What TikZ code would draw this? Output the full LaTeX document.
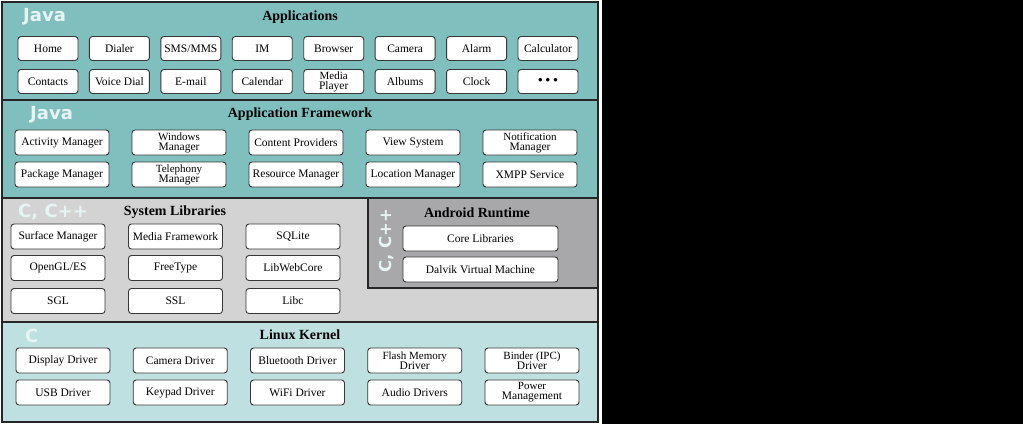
\documentclass[tikz,border=0pt]{standalone}
\usepackage{fontspec}
\setmainfont{Liberation Serif}
\newfontfamily\langfont{DejaVu Sans}

\definecolor{appteal}{RGB}{127,191,190}
\definecolor{kernteal}{RGB}{191,224,224}
\definecolor{libgray}{RGB}{211,211,211}
\definecolor{rtgray}{RGB}{168,168,170}
\definecolor{boxline}{RGB}{55,55,55}
\definecolor{langwhite}{RGB}{232,244,244}

% two line label inside a box
\newcommand{\twoln}[2]{\fontsize{11}{9.5}\selectfont #1\\#2}

\begin{document}
\begin{tikzpicture}[x=1pt,y=-1pt,
  comp/.style={draw=boxline,fill=white,rounded corners=3pt,line width=0.9pt,
    minimum width=94pt,minimum height=25pt,inner sep=1pt,align=center,
    font=\fontsize{11.5}{10}\selectfont},
  appbox/.style={comp,minimum width=60pt,minimum height=24pt},
  rtbox/.style={comp,minimum width=155pt},
  layertitle/.style={font=\fontsize{14}{16}\selectfont\bfseries},
  langlbl/.style={text=langwhite,font=\fontsize{18}{20}\selectfont\langfont\bfseries,
    anchor=west,inner sep=0pt}]

  \useasboundingbox (0,0) rectangle (1023,424);
  \fill[black] (602,0) rectangle (1023,424);

  % layer backgrounds
  \fill[appteal] (2,2) rectangle (598,198);
  \fill[libgray] (2,198) rectangle (598,322);
  \fill[kernteal] (2,322) rectangle (598,422);
  \filldraw[fill=rtgray,draw=black!85,line width=1.2pt] (368,198) rectangle (598,288);

  % frame and separators
  \draw[black!85,line width=1.2pt] (2,100) -- (598,100);
  \draw[black!85,line width=1.2pt] (2,198) -- (598,198);
  \draw[black!85,line width=1.2pt] (2,322) -- (598,322);
  \draw[black!85,line width=1.5pt] (2,2) rectangle (598,422);

  % applications
  \node[langlbl] (javaA) at (23,17) {Java};
  \node[layertitle] (appsT) at (300,17) {Applications};
  \foreach \nm/\txt [count=\i from 0] in {home/Home,dialer/Dialer,sms/{SMS/MMS},
      im/IM,browser/Browser,camera/Camera,alarm/Alarm,calc/Calculator}
  {
       \node[appbox] (\nm) at ({48+71.43*\i},48.5) {\txt};
  }
  \foreach \nm/\txt [count=\i from 0] in {contacts/Contacts,voicedial/Voice Dial,
      email/E-mail,calendar/Calendar,media/{\twoln{Media}{Player}},albums/Albums,
      clock/Clock,more/{\fontsize{13}{13}\selectfont\textbf{\textbullet\hspace{3pt}\textbullet\hspace{3pt}\textbullet}}}
  {
       \node[appbox] (\nm) at ({48+71.43*\i},81.5) {\txt};
  }

  % application framework
  \node[langlbl] (javaF) at (30,115) {Java};
  \node[layertitle] (frameT) at (300,114) {Application Framework};
  \foreach \nm/\txt [count=\i from 0] in {actmgr/Activity Manager,
      winmgr/{\twoln{Windows}{Manager}},content/Content Providers,
      viewsys/View System,notify/{\twoln{Notification}{Manager}}}
  {
       \node[comp] (\nm) at ({62+117*\i},142.5) {\txt};
  }
  \foreach \nm/\txt [count=\i from 0] in {pkgmgr/Package Manager,
      telmgr/{\twoln{Telephony}{Manager}},resmgr/Resource Manager,
      locmgr/Location Manager,xmpp/XMPP Service}
  {
       \node[comp] (\nm) at ({62+117*\i},174.5) {\txt};
  }

  % system libraries
  \node[langlbl] (cppL) at (18,212) {C, C++};
  \node[layertitle] (libsT) at (175,212) {System Libraries};
  \foreach \nm/\txt [count=\i from 0] in {surface/Surface Manager,
      mediafw/Media Framework,sqlite/SQLite}
  {
       \node[comp] (\nm) at ({58+117.5*\i},236.5) {\txt};
  }
  \foreach \nm/\txt [count=\i from 0] in {opengl/{OpenGL/ES},freetype/FreeType,
      webcore/LibWebCore}
  {
       \node[comp] (\nm) at ({58+117.5*\i},268) {\txt};
  }
  \foreach \nm/\txt [count=\i from 0] in {sgl/SGL,ssl/SSL,libc/Libc}
  {
       \node[comp] (\nm) at ({58+117.5*\i},301) {\txt};
  }

  % android runtime
  \node[layertitle] (rtT) at (477,213) {Android Runtime};
  \node[langlbl,anchor=center,rotate=90,font=\fontsize{16.5}{18}\selectfont\langfont\bfseries]
    (cppR) at (387,241) {C, C++};
  \node[rtbox] (core) at (480.5,238.5) {Core Libraries};
  \node[rtbox] (dalvik) at (480.5,269.5) {Dalvik Virtual Machine};

  % linux kernel
  \node[langlbl] (cK) at (25,336) {C};
  \node[layertitle] (kernT) at (300,335) {Linux Kernel};
  \foreach \nm/\txt [count=\i from 0] in {display/Display Driver,
      camdrv/Camera Driver,bluetooth/Bluetooth Driver,
      flash/{\twoln{Flash Memory}{Driver}},binder/{\twoln{Binder (IPC)}{Driver}}}
  {
       \node[comp] (\nm) at ({63+117.25*\i},360.5) {\txt};
  }
  \foreach \nm/\txt [count=\i from 0] in {usb/USB Driver,keypad/Keypad Driver,
      wifi/WiFi Driver,audio/Audio Drivers,power/{\twoln{Power}{Management}}}
  {
       \node[comp] (\nm) at ({63+117.25*\i},392.5) {\txt};
  }

\end{tikzpicture}
\end{document}
